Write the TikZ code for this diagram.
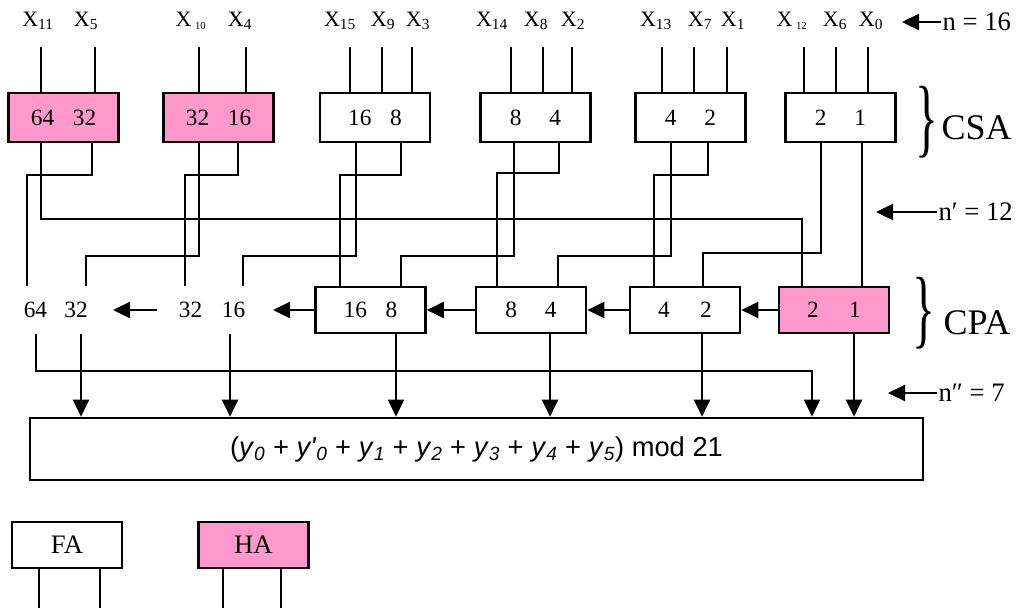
\documentclass[tikz,border=0pt]{standalone}
\usepackage{graphicx}
\usepackage{fontspec}
\setmainfont{Liberation Serif}
\newfontfamily\formulafont{Liberation Sans}
\usetikzlibrary{arrows.meta}
\definecolor{hapink}{RGB}{255,153,204}
\newcommand{\ysub}[1]{\textit{y}\textsubscript{\itshape #1}}

\begin{document}
\begin{tikzpicture}[x=0.75pt,y=-0.75pt,
    adder/.style={draw,line width=2pt,minimum width=82.5pt,minimum height=36.75pt,
      inner sep=0pt,font=\fontsize{17.5}{20}\selectfont},
    half/.style={adder,fill=hapink},
    cpa/.style={minimum height=34.5pt},
    wire/.style={line width=1.7pt},
    arr/.style={wire,-{Triangle[length=12.75pt,width=12pt]}},
    xin/.style={font=\fontsize{16.5}{19}\selectfont,inner sep=1pt},
    bit/.style={font=\fontsize{17.5}{20}\selectfont,inner sep=1pt},
    note/.style={font=\fontsize{20}{24}\selectfont,anchor=west,inner sep=1pt},
    brace/.style={font=\fontsize{42}{42}\selectfont,inner sep=0pt}]
  \useasboundingbox (0,0) rectangle (1018,612);

  % input bits
  \node[xin] (x11) at (38,21) {X\textsubscript{11}};
  \node[xin] (x5) at (86,21) {X\textsubscript{5}};
  \node[xin] (x10) at (191,21) {X\,\textsubscript{\footnotesize 10}};
  \node[xin] (x4) at (240,21) {X\textsubscript{4}};
  \node[xin] (x15) at (340,21) {X\textsubscript{15}};
  \node[xin] (x9) at (383,21) {X\textsubscript{9}};
  \node[xin] (x3) at (418,21) {X\textsubscript{3}};
  \node[xin] (x14) at (492,21) {X\textsubscript{14}};
  \node[xin] (x8) at (536,21) {X\textsubscript{8}};
  \node[xin] (x2) at (573,21) {X\textsubscript{2}};
  \node[xin] (x13) at (656,21) {X\textsubscript{13}};
  \node[xin] (x7) at (700,21) {X\textsubscript{7}};
  \node[xin] (x1) at (733,21) {X\textsubscript{1}};
  \node[xin] (x12) at (792,21) {X\,\textsubscript{\footnotesize 12}};
  \node[xin] (x6) at (835,21) {X\textsubscript{6}};
  \node[xin] (x0) at (871,21) {X\textsubscript{0}};
  \coordinate (in) at (0,47);

  % carry save adders
  \node[half] (csa1) at (63.5,117.5) {64\hspace{0.8em}32};
  \node[half] (csa2) at (218.5,117.5) {32\hspace{0.8em}16};
  \node[adder] (csa3) at (375,117.5) {16\hspace{0.8em}8};
  \node[adder] (csa4) at (535.5,117.5) {8\hspace{1.2em}4\hspace{0.5em}};
  \node[adder] (csa5) at (690.5,117.5) {4\hspace{1.2em}2\hspace{0.5em}};
  \node[adder] (csa6) at (840.5,117.5) {2\hspace{1.2em}1\hspace{0.3em}};

  % carry propagate adder
  \node[adder,cpa] (cpa3) at (370.5,310) {16\hspace{0.8em}8};
  \node[adder,cpa] (cpa4) at (531,310) {8\hspace{1.2em}4\hspace{0.3em}};
  \node[adder,cpa] (cpa5) at (685,310) {4\hspace{1.3em}2};
  \node[half,cpa] (cpa6) at (834,310) {2\hspace{1.3em}1};
  \node[bit] (b64) at (35.5,310) {64};
  \node[bit] (b32) at (76,310) {32};
  \node[bit] (c32) at (190.5,310) {32};
  \node[bit] (c16) at (233.5,310) {16};
  \coordinate (t16) at (273,310);
  \coordinate (s32) at (157,310);
  \coordinate (t32) at (113,310);

  % modulo reduction
  \node[draw,line width=2pt,minimum width=669.75pt,minimum height=46.5pt,
    font=\formulafont\fontsize{20.5}{24}\selectfont] (res) at (476.5,449)
    {(\ysub{0} + \textit{y\textquotesingle}\textsubscript{\itshape 0} + \ysub{1} + \ysub{2}
     + \ysub{3} + \ysub{4} + \ysub{5}) mod 21\hspace{0.5em}};

  % legend
  \node[adder,cpa,font=\fontsize{20}{24}\selectfont] (fa) at (67,545) {FA};
  \node[half,cpa,font=\fontsize{20}{24}\selectfont] (ha) at (253.5,545) {HA};
  \coordinate (leg) at (0,608);

  % side notes
  \node[note] (n16) at (941,22) {n = 16};
  \coordinate (n16tip) at (902,22);
  \node[note] (n12) at (937,212) {n′ = 12};
  \coordinate (n12tip) at (876,212);
  \node[note] (n7) at (937,393) {n″ = 7};
  \coordinate (n7tip) at (888,393);
  \node[brace] (bcsa) at (927,122) {\scalebox{0.85}[1.55]{\}}};
  \node[note,font=\fontsize{27}{30}\selectfont] (tcsa) at (940,128) {CSA};
  \node[brace] (bcpa) at (924,313) {\scalebox{0.85}[1.55]{\}}};
  \node[note,font=\fontsize{27}{30}\selectfont] (tcpa) at (942,323) {CPA};

  \begin{scope}[wire]
    \draw (41,0 |- in) -- (41,0 |- csa1.north);
    \draw (95,0 |- in) -- (95,0 |- csa1.north);
    \draw (199,0 |- in) -- (199,0 |- csa2.north);
    \draw (246,0 |- in) -- (246,0 |- csa2.north);
    \draw (350,0 |- in) -- (350,0 |- csa3.north);
    \draw (382,0 |- in) -- (382,0 |- csa3.north);
    \draw (412,0 |- in) -- (412,0 |- csa3.north);
    \draw (511,0 |- in) -- (511,0 |- csa4.north);
    \draw (543,0 |- in) -- (543,0 |- csa4.north);
    \draw (572,0 |- in) -- (572,0 |- csa4.north);
    \draw (662,0 |- in) -- (662,0 |- csa5.north);
    \draw (694,0 |- in) -- (694,0 |- csa5.north);
    \draw (727,0 |- in) -- (727,0 |- csa5.north);
    \draw (804,0 |- in) -- (804,0 |- csa6.north);
    \draw (836,0 |- in) -- (836,0 |- csa6.north);
    \draw (868,0 |- in) -- (868,0 |- csa6.north);

    \draw (41,0 |- csa1.south) |- (802,219) -- (802,0 |- cpa6.north);
    \draw (92,0 |- csa1.south) |- (27,175) -- (27,0 |- cpa3.north);
    \draw (199,0 |- csa2.south) |- (86,256) -- (86,0 |- cpa3.north);
    \draw (238,0 |- csa2.south) |- (185,175) -- (185,0 |- cpa3.north);
    \draw (356,0 |- csa3.south) |- (243,256) -- (243,0 |- cpa3.north);
    \draw (401,0 |- csa3.south) |- (340,175) -- (340,0 |- cpa3.north);
    \draw (514,0 |- csa4.south) |- (401,256) -- (401,0 |- cpa3.north);
    \draw (559,0 |- csa4.south) |- (497,173) -- (497,0 |- cpa4.north);
    \draw (671,0 |- csa5.south) |- (558,256) -- (558,0 |- cpa4.north);
    \draw (708,0 |- csa5.south) |- (654,175) -- (654,0 |- cpa5.north);
    \draw (821,0 |- csa6.south) |- (703,253) -- (703,0 |- cpa5.north);
    \draw (862,0 |- csa6.south) -- (862,0 |- cpa6.north);

    \draw (39,0 |- fa.south) -- (39,0 |- leg);
    \draw (100,0 |- fa.south) -- (100,0 |- leg);
    \draw (223,0 |- ha.south) -- (223,0 |- leg);
    \draw (281,0 |- ha.south) -- (281,0 |- leg);
  \end{scope}

  \draw[arr] (cpa6) -- (cpa5);
  \draw[arr] (cpa5) -- (cpa4);
  \draw[arr] (cpa4) -- (cpa3);
  \draw[arr] (cpa3) -- (t16);
  \draw[arr] (s32) -- (t32);

  \draw[arr] (36,0 |- cpa3.south) |- (812,371) -- (812,0 |- res.north);
  \draw[arr] (81,0 |- cpa3.south) -- (81,0 |- res.north);
  \draw[arr] (230,0 |- cpa3.south) -- (230,0 |- res.north);
  \draw[arr] (396,0 |- cpa3.south) -- (396,0 |- res.north);
  \draw[arr] (550,0 |- cpa4.south) -- (550,0 |- res.north);
  \draw[arr] (702,0 |- cpa5.south) -- (702,0 |- res.north);
  \draw[arr] (854,0 |- cpa6.south) -- (854,0 |- res.north);

  \draw[arr] (n16.west) -- (n16tip);
  \draw[arr] (n12.west) -- (n12tip);
  \draw[arr] (n7.west) -- (n7tip);
\end{tikzpicture}
\end{document}
